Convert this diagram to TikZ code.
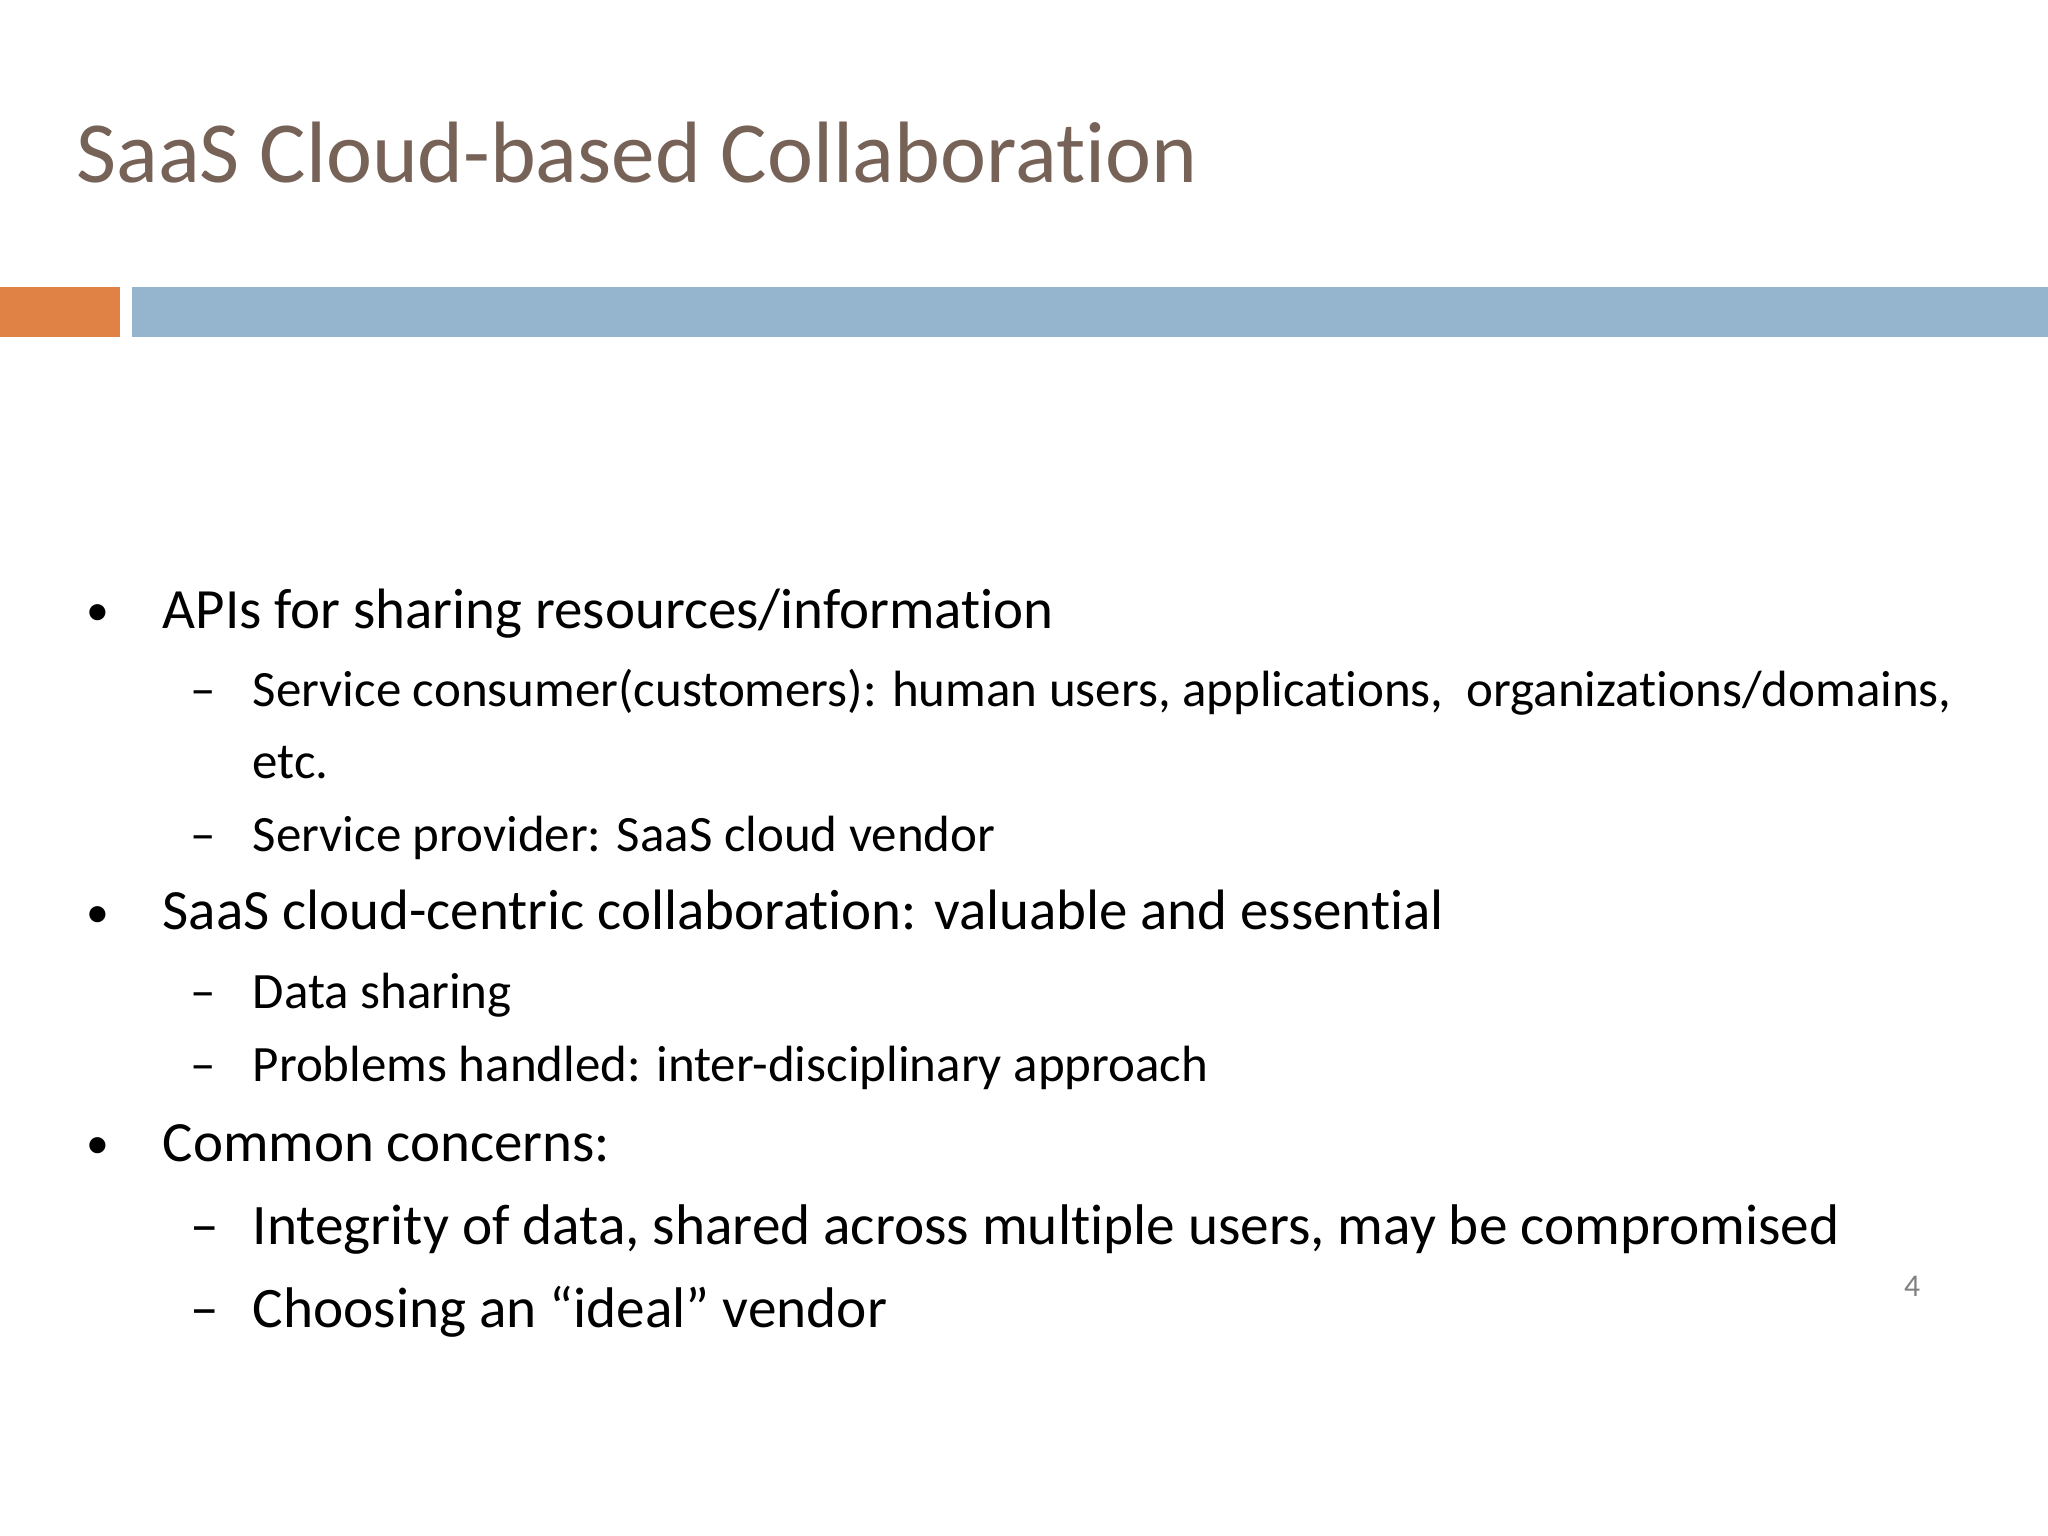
\documentclass[tikz,border=0pt]{standalone}
\usepackage{fontspec}
\setmainfont[Ligatures=NoCommon]{Carlito}
\definecolor{titlec}{RGB}{118,98,86}
\definecolor{orangec}{RGB}{224,130,70}
\definecolor{bluec}{RGB}{149,180,206}
\tikzset{
 t1/.style={anchor=base west,inner sep=0,font=\fontsize{16.2}{20}\selectfont},
 t2/.style={anchor=base west,inner sep=0,font=\fontsize{14.5}{17}\selectfont},
 t3/.style={anchor=base west,inner sep=0,font=\fontsize{16.3}{20}\selectfont},
 bul/.style={anchor=base west,inner sep=0,font=\fontsize{13}{15}\selectfont},
}
\begin{document}
\begin{tikzpicture}[x=0.013061cm,y=-0.013061cm]
\useasboundingbox (0,0) rectangle (1568,1176);
\fill[white] (0,0) rectangle (1568,1176);
\node[anchor=base west,inner sep=0,text=titlec,font=\fontsize{24.8}{30}\selectfont] (title) at (58,140) {SaaS Cloud-based Collaboration};
\fill[orangec] (0,220) rectangle (92,258);
\fill[bluec] (101,220) rectangle (1568,258);
\node[bul] (b1) at (66,479) {•};
\node[t1] (l1) at (124,481) {APIs for sharing resources/information};
\node[t2] (d1) at (145,541) {–};
\node[t2] (l2) at (193,541) {Service consumer(customers): human users, applications,\ \ organizations/domains,};
\node[t2] (l3) at (193,596) {etc.};
\node[t2] (d2) at (145,652) {–};
\node[t2] (l4) at (193,652) {Service provider: SaaS cloud vendor};
\node[bul] (b2) at (66,710) {•};
\node[t1] (l5) at (124,712) {SaaS cloud-centric collaboration: valuable and essential};
\node[t2] (d3) at (145,772) {–};
\node[t2] (l6) at (193,772) {Data sharing};
\node[t2] (d4) at (145,828) {–};
\node[t2] (l7) at (193,828) {Problems handled: inter-disciplinary approach};
\node[bul] (b3) at (66,887) {•};
\node[t1] (l8) at (124,889) {Common concerns:};
\node[t3] (d5) at (145,953) {–};
\node[t3] (l9) at (193,953) {Integrity of data, shared across multiple users, may be compromised};
\node[t3] (d6) at (145,1016) {–};
\node[t3] (l10) at (193,1016) {Choosing an “ideal” vendor};
\node[anchor=base,inner sep=0,text=gray,font=\fontsize{9}{11}\selectfont] (pg) at (1464,993) {4};
\end{tikzpicture}
\end{document}
